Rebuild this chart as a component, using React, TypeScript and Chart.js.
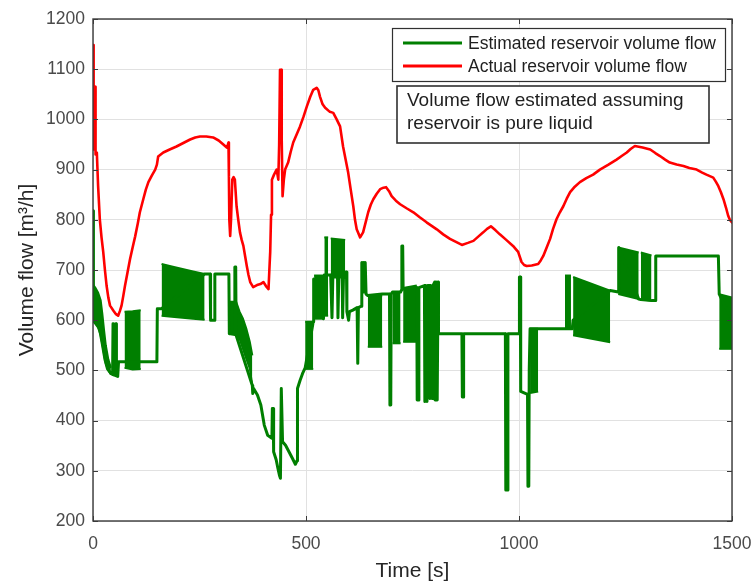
import { useEffect, useRef } from "react";
import { Chart, registerables } from "chart.js";

Chart.register(...registerables);

// Axis ticks
const timeTicks = [0, 500, 1000, 1500];
const flowTicks = [200, 300, 400, 500, 600, 700, 800, 900, 1000, 1100, 1200];

const seriesLabels = ["Estimated reservoir volume flow", "Actual reservoir volume flow"];
const noteLines = ["Volume flow estimated assuming", "reservoir is pure liquid"];
const xTitle = "Time [s]";
const yTitle = "Volume flow [m³/h]";

// Actual reservoir volume flow: [time s, flow m3/h]
const actualFlow: [number, number][] = [
  [0, 1148], [1, 1100], [2, 940], [3, 1000], [4, 1065], [5, 1065], [6, 930], [9, 934], [12, 867],
  [16, 801], [20, 765], [24, 736], [28, 700], [32, 668], [36, 645], [40, 629], [48, 619], [54, 612],
  [59, 609], [63, 618], [67, 629], [71, 648], [75, 668], [81, 695], [87, 722], [93, 745], [99, 767],
  [105, 792], [110, 815], [118, 841], [124, 860], [130, 875], [138, 888], [146, 900], [150, 910],
  [153, 926], [165, 934], [180, 940], [196, 946], [212, 953], [228, 960], [240, 964], [251, 966],
  [266, 966], [282, 964], [295, 958], [306, 950], [314, 944], [316, 948], [318, 954], [319, 886],
  [320, 800], [322, 768], [324, 800], [327, 880], [330, 885], [333, 880], [337, 827], [341, 800],
  [345, 775], [349, 760], [353, 748], [357, 728], [361, 708], [365, 690], [369, 676], [376, 666],
  [385, 670], [393, 672], [400, 676], [406, 668], [412, 662], [414, 700], [416, 736], [418, 810],
  [420, 880], [425, 890], [431, 900], [435, 880], [437, 950], [439, 1099], [442, 1099], [443, 960],
  [445, 847], [448, 880], [451, 900], [455, 908], [458, 914], [464, 935], [470, 954], [478, 970],
  [486, 986], [494, 1005], [502, 1026], [510, 1045], [517, 1059], [525, 1063], [529, 1058],
  [533, 1045], [539, 1030], [545, 1023], [556, 1015], [564, 1013], [572, 1000], [580, 986],
  [587, 946], [593, 920], [599, 894], [605, 860], [611, 827], [615, 800], [619, 781], [627, 765],
  [634, 775], [640, 795], [646, 815], [652, 830], [658, 841], [666, 852], [674, 861], [682, 864],
  [688, 865], [695, 857], [701, 847], [711, 838], [721, 831], [736, 823], [752, 815], [767, 805],
  [783, 795], [795, 788], [807, 781], [822, 771], [838, 762], [852, 756], [866, 750], [880, 754],
  [893, 758], [905, 767], [916, 775], [925, 782], [934, 787], [945, 779], [955, 771], [970, 760],
  [986, 748], [998, 736], [1006, 716], [1012, 710], [1018, 708], [1030, 709], [1045, 712],
  [1051, 719], [1057, 728], [1065, 745], [1073, 762], [1080, 782], [1088, 801], [1096, 815],
  [1104, 827], [1112, 842], [1120, 855], [1131, 866], [1143, 875], [1158, 883], [1174, 890],
  [1190, 900], [1210, 910], [1229, 920], [1241, 927], [1253, 934], [1262, 941], [1272, 947],
  [1290, 944], [1308, 940], [1320, 933], [1331, 927], [1343, 920], [1354, 914], [1370, 910],
  [1386, 907], [1400, 903], [1417, 900], [1430, 894], [1440, 890], [1448, 887], [1456, 884],
  [1462, 876], [1468, 867], [1474, 855], [1480, 841], [1486, 824], [1491, 808], [1495, 800],
  [1500, 795],
];

// Estimated volume flow (pure-liquid assumption): [time s, flow m3/h]
const estimatedFlow: [number, number][] = [
  [0, 818], [1, 600], [4, 598], [10, 593], [16, 580], [22, 552], [28, 522], [34, 503], [42, 494],
  [46, 492], [47, 593], [48, 593], [49, 491], [52, 490], [53, 593], [54, 593], [55, 489], [58, 488],
  [60, 517], [150, 517], [151, 623], [161, 623], [262, 692], [275, 692], [276, 600], [285, 600],
  [286, 692], [319, 692], [320, 573], [333, 573], [333, 706], [335, 706], [336, 570], [374, 470],
  [375, 454], [377, 464], [386, 451], [394, 431], [402, 391], [410, 371], [420, 365], [421, 424],
  [423, 424], [424, 338], [430, 322], [434, 305], [438, 290], [440, 285], [441, 285], [442, 464],
  [443, 464], [445, 358], [452, 351], [460, 338], [468, 325], [475, 313], [479, 320], [480, 464],
  [486, 480], [492, 494], [498, 505], [517, 597], [518, 682], [541, 603], [543, 690], [552, 690],
  [557, 690], [558, 686], [561, 605], [563, 686], [574, 686], [575, 605], [577, 686], [585, 686],
  [586, 605], [588, 686], [592, 686], [593, 696], [595, 696], [596, 617], [600, 600], [602, 617],
  [610, 620], [620, 625], [621, 514], [622, 514], [623, 625], [630, 628], [631, 715], [633, 656],
  [635, 715], [637, 656], [639, 715], [641, 652], [645, 649], [679, 652], [696, 652], [697, 431],
  [699, 431], [700, 652], [703, 656], [722, 656], [724, 660], [725, 748], [727, 748], [728, 662],
  [760, 665], [761, 441], [763, 441], [765, 665], [778, 669], [779, 438], [781, 669], [784, 438],
  [786, 669], [790, 669], [791, 444], [793, 669], [796, 444], [798, 669], [802, 676], [803, 441],
  [805, 676], [808, 441], [810, 676], [811, 573], [866, 573], [867, 447], [869, 447], [870, 573],
  [968, 573], [969, 262], [973, 262], [974, 573], [1000, 573], [1001, 686], [1003, 686],
  [1004, 458], [1020, 452], [1021, 269], [1023, 269], [1024, 500], [1026, 583], [1045, 583],
  [1108, 583], [1122, 583], [1125, 583], [1127, 600], [1214, 659], [1233, 656], [1234, 745],
  [1281, 642], [1286, 641], [1311, 639], [1320, 639], [1321, 728], [1468, 728], [1470, 652],
  [1500, 600],
];

// Rapid switching intervals of the estimate: [time s, upper flow, lower flow]
const estimatedBands: [number, number, number][][] = [
  [[1, 670, 597], [6, 664, 592], [12, 655, 585], [18, 640, 570], [22, 612, 552], [26, 580, 532], [30, 550, 514], [36, 522, 500], [42, 505, 492]],
  [[74, 617, 505], [93, 618, 502], [112, 620, 503]],
  [[161, 712, 609], [185, 707, 607], [210, 702, 605], [235, 697, 603], [262, 692, 601]],
  [[320, 637, 573], [336, 637, 570], [344, 617, 563], [352, 603, 543], [360, 583, 523], [368, 557, 504], [374, 530, 470]],
  [[498, 597, 503], [517, 597, 503]],
  [[519, 689, 603], [541, 689, 603]],
  [[543, 765, 609], [552, 765, 609]],
  [[558, 763, 686], [592, 760, 686]],
  [[645, 649, 547], [679, 649, 547]],
  [[703, 656, 554], [722, 656, 554]],
  [[728, 664, 557], [760, 669, 557]],
  [[1026, 583, 455], [1045, 583, 458]],
  [[1108, 689, 583], [1122, 689, 583]],
  [[1127, 686, 570], [1214, 659, 556]],
  [[1233, 745, 652], [1281, 735, 642]],
  [[1286, 735, 641], [1311, 729, 639]],
  [[1470, 652, 543], [1500, 645, 543]],
];

const GREEN = "#007f00";
const RED = "#ff0000";
const FONT = "'Liberation Sans', Arial, Helvetica, sans-serif";

const toPoints = (rows: [number, number][]) => rows.map(([x, y]) => ({ x, y }));

const framePlugin = {
  id: "frame",
  afterDraw(chart: any) {
    const { ctx, chartArea: a, scales } = chart;
    const xs = scales.x;
    const ys = scales.y;
    ctx.save();

    // axes box with inward ticks
    ctx.strokeStyle = "#3a3a3a";
    ctx.lineWidth = 1.4;
    ctx.strokeRect(a.left, a.top, a.right - a.left, a.bottom - a.top);
    ctx.lineWidth = 1;
    const tl = 5;
    ctx.beginPath();
    for (const v of timeTicks) {
      const px = Math.round(xs.getPixelForValue(v)) + 0.5;
      ctx.moveTo(px, a.bottom);
      ctx.lineTo(px, a.bottom - tl);
      ctx.moveTo(px, a.top);
      ctx.lineTo(px, a.top + tl);
    }
    for (const v of flowTicks) {
      const py = Math.round(ys.getPixelForValue(v)) + 0.5;
      ctx.moveTo(a.left, py);
      ctx.lineTo(a.left + tl, py);
      ctx.moveTo(a.right, py);
      ctx.lineTo(a.right - tl, py);
    }
    ctx.stroke();

    // axis titles
    ctx.fillStyle = "#262626";
    ctx.font = `21px ${FONT}`;
    ctx.textAlign = "center";
    ctx.textBaseline = "middle";
    ctx.fillText(xTitle, (a.left + a.right) / 2, 571);
    ctx.save();
    ctx.translate(27, (a.top + a.bottom) / 2);
    ctx.rotate(-Math.PI / 2);
    ctx.fillText(yTitle, 0, 0);
    ctx.restore();

    // legend
    const lg = { l: 392, t: 28, r: 725, b: 81 };
    ctx.fillStyle = "#ffffff";
    ctx.fillRect(lg.l, lg.t, lg.r - lg.l, lg.b - lg.t);
    ctx.strokeStyle = "#303030";
    ctx.lineWidth = 1.2;
    ctx.strokeRect(lg.l + 0.5, lg.t + 0.5, lg.r - lg.l, lg.b - lg.t);
    const rows = [
      { label: seriesLabels[0], color: GREEN, y: 43 },
      { label: seriesLabels[1], color: RED, y: 66 },
    ];
    ctx.font = `17.5px ${FONT}`;
    ctx.textAlign = "left";
    for (const r of rows) {
      ctx.strokeStyle = r.color;
      ctx.lineWidth = 3;
      ctx.beginPath();
      ctx.moveTo(403, r.y);
      ctx.lineTo(462, r.y);
      ctx.stroke();
      ctx.fillStyle = "#1f1f1f";
      ctx.fillText(r.label, 468, r.y + 1);
    }

    // note box
    const nb = { l: 397, t: 86, r: 709, b: 143 };
    ctx.fillStyle = "#ffffff";
    ctx.fillRect(nb.l, nb.t, nb.r - nb.l, nb.b - nb.t);
    ctx.strokeStyle = "#303030";
    ctx.lineWidth = 1.6;
    ctx.strokeRect(nb.l, nb.t, nb.r - nb.l, nb.b - nb.t);
    ctx.fillStyle = "#1f1f1f";
    ctx.font = `19px ${FONT}`;
    ctx.fillText(noteLines[0], 407, 101);
    ctx.fillText(noteLines[1], 407, 124);

    ctx.restore();
  },
};

export default function App() {
  const canvasRef = useRef<HTMLCanvasElement | null>(null);

  useEffect(() => {
    const canvas = canvasRef.current;
    if (!canvas) return;

    const bandSets: any[] = [];
    estimatedBands.forEach((band) => {
      bandSets.push({
        data: band.map(([x, hi]) => ({ x, y: hi })),
        borderColor: GREEN,
        backgroundColor: GREEN,
        borderWidth: 2,
        pointRadius: 0,
        fill: "+1",
        order: 1,
      });
      bandSets.push({
        data: band.map(([x, , lo]) => ({ x, y: lo })),
        borderColor: GREEN,
        backgroundColor: GREEN,
        borderWidth: 2,
        pointRadius: 0,
        fill: false,
        order: 1,
      });
    });

    const chart = new Chart(canvas, {
      type: "line",
      data: {
        datasets: [
          {
            label: seriesLabels[1],
            data: toPoints(actualFlow),
            borderColor: RED,
            borderWidth: 2.6,
            pointRadius: 0,
            tension: 0,
            borderJoinStyle: "round",
            borderCapStyle: "round",
            fill: false,
            order: 0,
          },
          {
            label: seriesLabels[0],
            data: toPoints(estimatedFlow),
            borderColor: GREEN,
            borderWidth: 3,
            pointRadius: 0,
            tension: 0,
            borderJoinStyle: "round",
            borderCapStyle: "round",
            fill: false,
            order: 1,
          },
          ...bandSets,
        ],
      },
      options: {
        animation: false,
        responsive: false,
        devicePixelRatio: 1,
        layout: { padding: { left: 0, right: 22, top: 19, bottom: 0 } },
        plugins: {
          legend: { display: false },
          tooltip: { enabled: false },
        },
        scales: {
          x: {
            type: "linear",
            min: 0,
            max: 1500,
            afterBuildTicks: (s: any) => {
              s.ticks = timeTicks.map((value) => ({ value }));
            },
            afterFit: (s: any) => {
              s.height = 63;
              s.paddingLeft = 0;
              s.paddingRight = 0;
            },
            grid: { color: "#e1e1e1", drawTicks: false, lineWidth: 1 },
            border: { display: false },
            ticks: {
              padding: 13,
              color: "#4a4a4a",
              maxRotation: 0,
              font: { size: 17.5, family: FONT },
              callback: (v: any) => String(v),
            },
          },
          y: {
            type: "linear",
            min: 200,
            max: 1200,
            afterBuildTicks: (s: any) => {
              s.ticks = flowTicks.map((value) => ({ value }));
            },
            afterFit: (s: any) => {
              s.width = 93;
              s.paddingTop = 0;
              s.paddingBottom = 0;
            },
            grid: { color: "#e1e1e1", drawTicks: false, lineWidth: 1 },
            border: { display: false },
            ticks: {
              padding: 8,
              color: "#4a4a4a",
              font: { size: 17.5, family: FONT },
              callback: (v: any) => String(v),
            },
          },
        },
      },
      plugins: [framePlugin],
    } as any);

    return () => chart.destroy();
  }, []);

  return (
    <div style={{ position: "fixed", left: 0, top: 0, width: 754, height: 584, background: "#ffffff" }}>
      <canvas ref={canvasRef} width={754} height={584} style={{ display: "block" }} />
    </div>
  );
}
